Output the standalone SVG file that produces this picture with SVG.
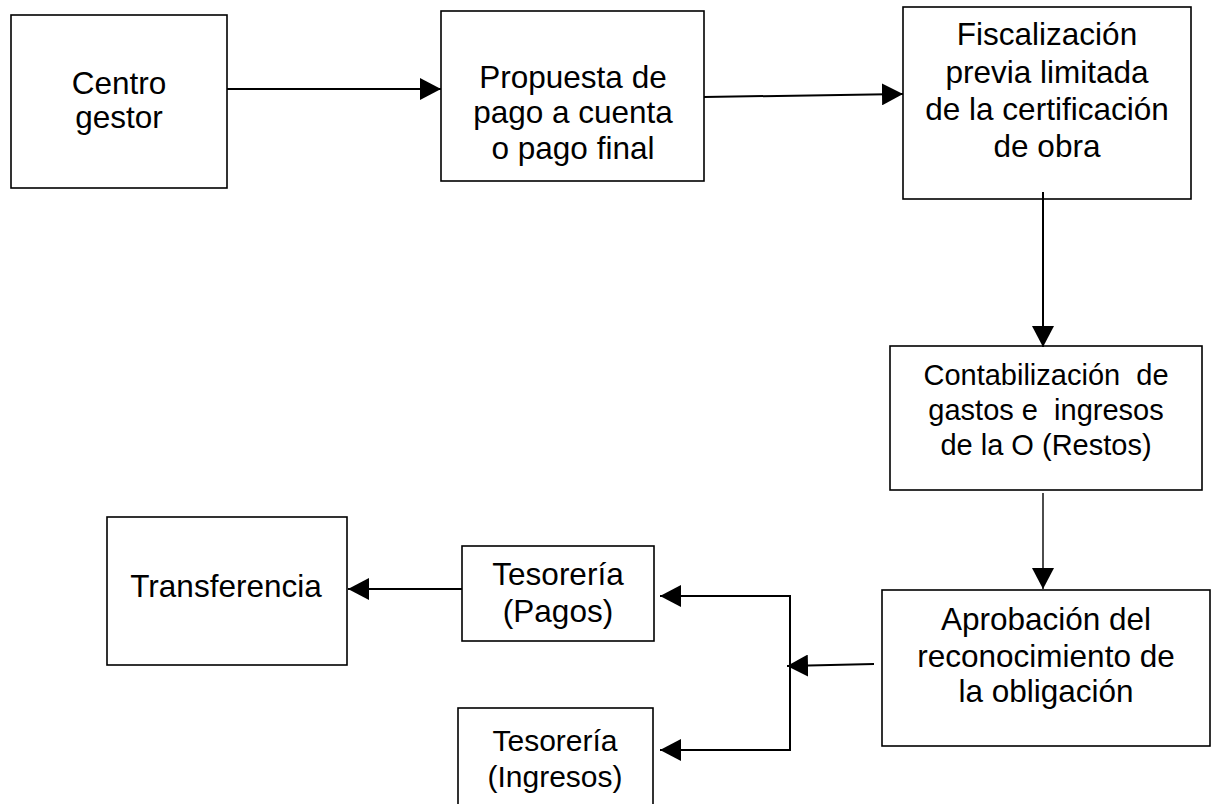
<svg xmlns="http://www.w3.org/2000/svg" width="1211" height="804" viewBox="0 0 1211 804">
<style>
.box{fill:#fff;stroke:#000;stroke-width:1.6}
.t{font-family:"Liberation Sans",Arial,sans-serif;font-size:31.5px;fill:#000;text-anchor:middle}
.s{font-size:29px}
.i{font-size:30px}
.c{fill:none;stroke:#000;stroke-width:2}
.thin{stroke-width:1.4}
</style>
<defs>
<marker id="ah" viewBox="0 0 21 22" refX="21" refY="11" markerWidth="21" markerHeight="22" markerUnits="userSpaceOnUse" orient="auto">
<path d="M0,0 L21,11 L0,22 Z" fill="#000"/>
</marker>
</defs>
<rect width="1211" height="804" fill="#fff"/>
<g id="centro">
<rect class="box" x="11" y="15" width="216" height="173"/>
<text class="t" x="119" y="94">Centro</text>
<text class="t" x="119" y="128">gestor</text>
</g>
<g id="propuesta">
<rect class="box" x="441" y="11" width="263" height="170"/>
<text class="t" x="573" y="88">Propuesta de</text>
<text class="t" x="573" y="123">pago a cuenta</text>
<text class="t" x="573" y="159">o pago final</text>
</g>
<g id="fiscalizacion">
<rect class="box" x="903" y="7" width="288" height="192"/>
<text class="t" x="1047" y="45">Fiscalización</text>
<text class="t" x="1047" y="83">previa limitada</text>
<text class="t" x="1047" y="120">de la certificación</text>
<text class="t" x="1047" y="157">de obra</text>
</g>
<g id="contabilizacion">
<rect class="box" x="890" y="346" width="312" height="144"/>
<text class="t s" x="1046" y="385" xml:space="preserve">Contabilización  de</text>
<text class="t s" x="1046" y="420" xml:space="preserve">gastos e  ingresos</text>
<text class="t s" x="1046" y="455">de la O (Restos)</text>
</g>
<g id="aprobacion">
<rect class="box" x="882" y="590" width="328" height="156"/>
<text class="t" x="1046" y="630">Aprobación del</text>
<text class="t" x="1046" y="667">reconocimiento de</text>
<text class="t" x="1046" y="702">la obligación</text>
</g>
<g id="tesoreria-pagos">
<rect class="box" x="462" y="546" width="192" height="95"/>
<text class="t" x="558" y="585">Tesorería</text>
<text class="t" x="558" y="622">(Pagos)</text>
</g>
<g id="tesoreria-ingresos">
<rect class="box" x="458" y="708" width="195" height="120"/>
<text class="t i" x="555" y="751">Tesorería</text>
<text class="t i" x="555" y="787">(Ingresos)</text>
</g>
<g id="transferencia">
<rect class="box" x="107" y="517" width="240" height="148"/>
<text class="t" x="226" y="597">Transferencia</text>
</g>
<g id="connectors">
<line class="c" x1="227" y1="89" x2="441" y2="89" marker-end="url(#ah)"/>
<line class="c" x1="704" y1="97" x2="903" y2="94" marker-end="url(#ah)"/>
<line class="c" x1="1043" y1="192" x2="1043" y2="347" marker-end="url(#ah)"/>
<line class="c thin" x1="1043" y1="493" x2="1043" y2="589" marker-end="url(#ah)"/>
<line class="c" x1="874" y1="664" x2="787" y2="666" marker-end="url(#ah)"/>
<path class="c" d="M790,596 L660,596" marker-end="url(#ah)"/>
<line class="c" x1="790" y1="595" x2="790" y2="751"/>
<path class="c" d="M790,750 L660,750" marker-end="url(#ah)"/>
<line class="c" x1="462" y1="589" x2="348" y2="589" marker-end="url(#ah)"/>
</g>
</svg>
